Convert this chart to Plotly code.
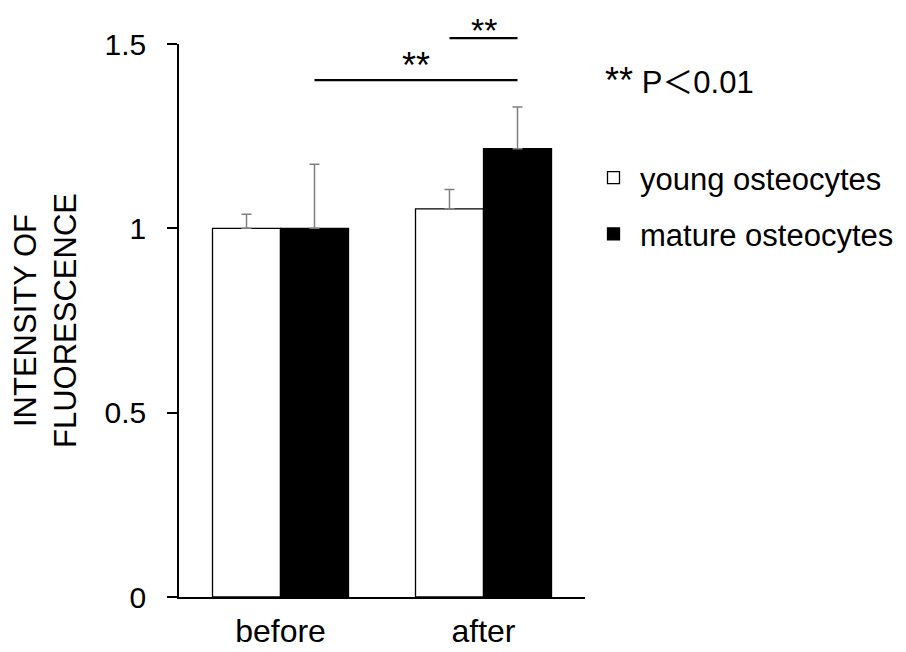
import plotly.graph_objects as go

categories = ["before", "after"]
young_vals = [1.0, 1.053]
young_err = [0.038, 0.052]
mature_vals = [1.0, 1.216]
mature_err = [0.174, 0.113]
y_ticks = [0, 0.5, 1, 1.5]
y_ticktext = ["0", "0.5", "1", "1.5"]

FONT = "Arial, 'Liberation Sans', 'Noto Sans CJK JP', sans-serif"

# page body has an 8px margin, so the figure is drawn 8px in from the window edge
W, H = 898, 644
L, T = 171, 36
PW, PH = 406, 553

fig = go.Figure()
fig.add_trace(go.Bar(
    x=categories, y=young_vals, name="young osteocytes",
    marker=dict(color="white", line=dict(color="black", width=1.3)),
    error_y=dict(type="data", array=young_err, arrayminus=[0, 0], symmetric=False,
                 color="#7f7f7f", thickness=1.5, width=5),
    legendgroup="a",
))
fig.add_trace(go.Bar(
    x=categories, y=mature_vals, name="mature osteocytes",
    marker=dict(color="black", line=dict(color="black", width=1.3)),
    error_y=dict(type="data", array=mature_err, arrayminus=[0, 0], symmetric=False,
                 color="#7f7f7f", thickness=1.5, width=5),
    legendgroup="b",
))

half = (1 - 0.33) / 4  # offset of each bar center within its group
sig = [
    (0 + half, 1 + half, 1.402, -8, 36),
    (1 - half, 1 + half, 1.516, -13, 34),
]
for x0, x1, yv, ys, fs in sig:
    fig.add_shape(type="line", xref="x", yref="paper", x0=x0, x1=x1,
                  y0=yv / 1.5, y1=yv / 1.5, line=dict(color="black", width=2.2))
    fig.add_annotation(xref="x", yref="paper", x=(x0 + x1) / 2, y=yv / 1.5,
                       text="**", showarrow=False, yanchor="bottom", yshift=ys,
                       font=dict(family=FONT, size=fs, color="black"))

fig.add_annotation(xref="paper", yref="paper", x=(603 - 8 - L) / PW, y=(589 - 72) / PH,
                   xanchor="left", yanchor="middle",
                   text="<span style='font-size:36px'>**</span> P＜0.01",
                   showarrow=False, font=dict(family=FONT, size=31, color="black"))

fig.update_layout(
    width=W, height=H,
    margin=dict(l=L, r=W - L - PW, t=T, b=H - T - PH, autoexpand=False),
    paper_bgcolor="white", plot_bgcolor="white",
    barmode="group", bargap=0.33, bargroupgap=0,
    font=dict(family=FONT, size=31, color="black"),
    showlegend=True,
    legend=dict(xref="container", yref="container",
                x=579 / W, y=1 - 143 / H, xanchor="left", yanchor="top",
                traceorder="grouped", tracegroupgap=13, itemwidth=43,
                font=dict(family=FONT, size=31, color="black"),
                bgcolor="rgba(0,0,0,0)"),
    xaxis=dict(showline=True, linecolor="black", linewidth=1.5, ticks="",
               showgrid=False, zeroline=False, ticklabelstandoff=5,
               tickfont=dict(family=FONT, size=32, color="black")),
    yaxis=dict(range=[0, 1.5], tickvals=y_ticks, ticktext=y_ticktext,
               showline=True, linecolor="black", linewidth=1.5,
               ticks="outside", ticklen=10, tickwidth=1.5, tickcolor="black",
               ticklabelstandoff=15,
               showgrid=False, zeroline=False,
               tickfont=dict(family=FONT, size=30, color="black"),
               title=dict(text="INTENSITY OF<br>FLUORESCENCE", standoff=19,
                          font=dict(family=FONT, size=31, color="black"))),
)

fig.write_html("out.html")
